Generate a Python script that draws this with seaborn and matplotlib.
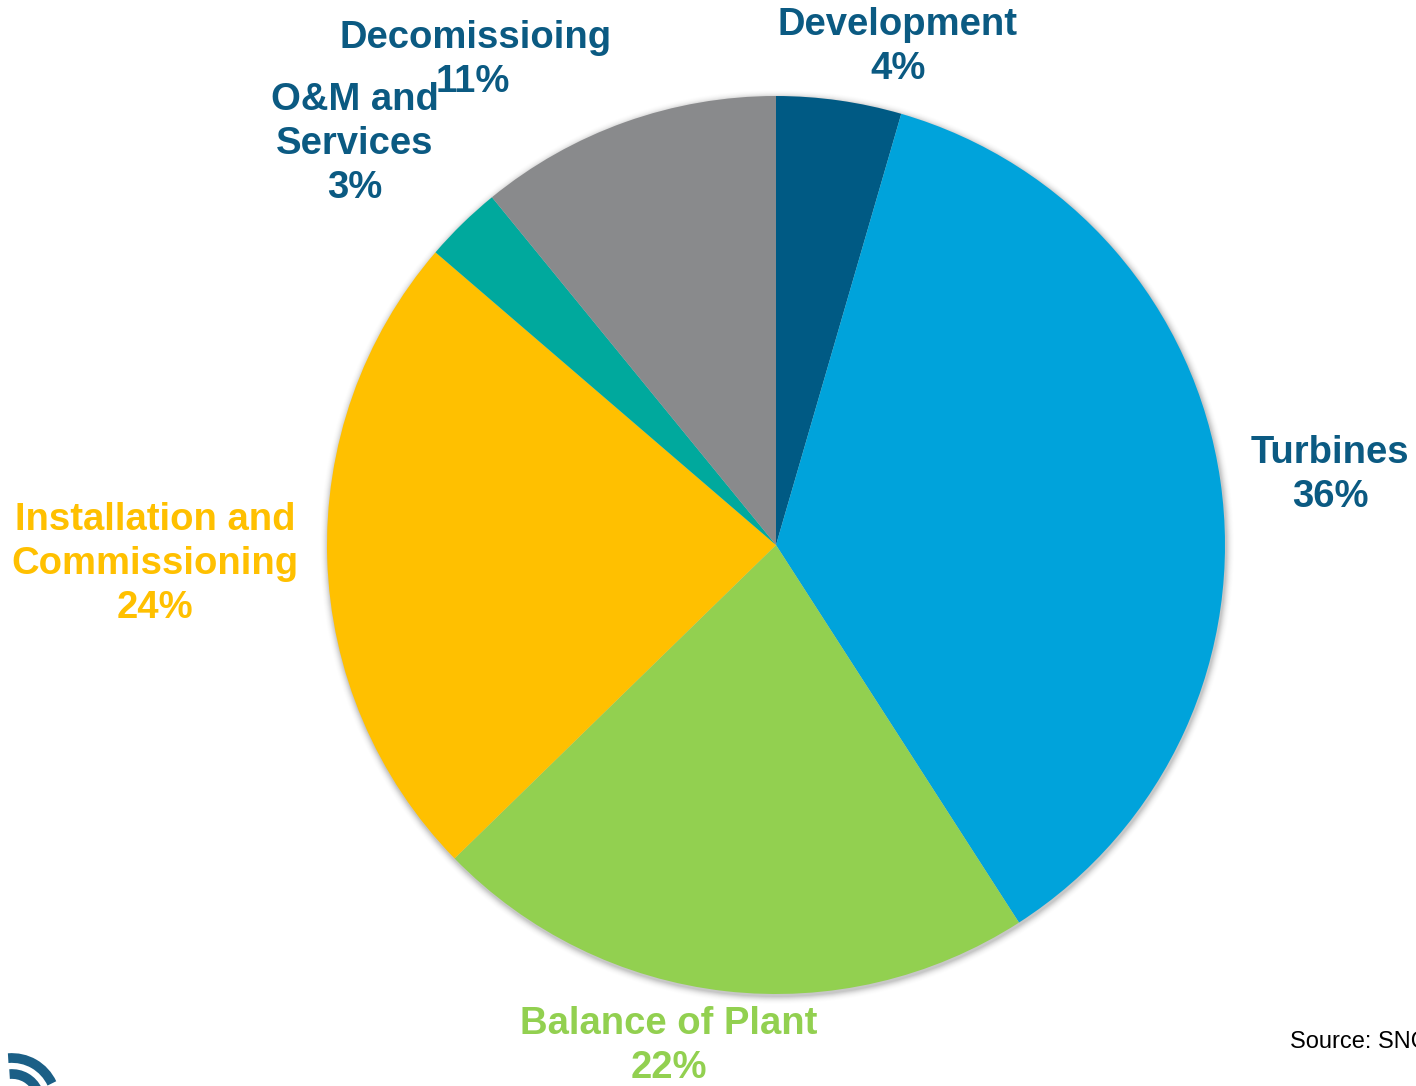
import matplotlib
matplotlib.use("Agg")
import matplotlib.pyplot as plt
import seaborn as sns
from matplotlib.patches import Arc

sns.set_theme(style="white")
plt.rcParams['font.family'] = ['Liberation Sans', 'DejaVu Sans']

# ---- data ----
categories = ["Development", "Turbines", "Balance of Plant",
              "Installation and\nCommissioning", "O&M and\nServices", "Decomissioing"]
shares = [4.5, 36.4, 21.8, 23.6, 2.8, 10.9]
pct_labels = ["4%", "36%", "22%", "24%", "3%", "11%"]
slice_colors = ["#005A84", "#00A3DB", "#92D050", "#FFC000", "#00A99D", "#898A8C"]
label_colors = ["#0B5A82", "#0B5A82", "#92D050", "#FFC000", "#0B5A82", "#0B5A82"]
source_text = "Source: SNC"

W, H = 1416, 1086
fig = plt.figure(figsize=(W / 100, H / 100), dpi=100)
ax = fig.add_axes([0, 0, 1, 1])

cx, cy, r = 776, H - 545, 449

# soft shadow
for k, a in zip(range(1, 9), [0.05, 0.045, 0.04, 0.03, 0.022, 0.015, 0.01, 0.006]):
    circ = plt.Circle((cx + 1, cy - 2), r + k, color="black", alpha=a, lw=0, zorder=0)
    ax.add_patch(circ)

ax.pie(shares, colors=slice_colors, startangle=90, counterclock=False,
       center=(cx, cy), radius=r, frame=True,
       wedgeprops=dict(linewidth=0, edgecolor="none"))
ax.set_xlim(0, W)
ax.set_ylim(0, H)
ax.set_aspect("equal")
ax.axis("off")

FS = 27.5
label_pos = [(898, 47), (1330, 475), (669, 1046), (155, 564), (355, 144), (475, 60)]
for cat, pct, col, (x, y) in zip(categories, pct_labels, label_colors, label_pos):
    if cat == "Decomissioing":
        ax.text(476, H - 38, cat, ha="center", va="center", fontsize=FS,
                fontweight="bold", color=col)
        ax.text(473, H - 82, pct, ha="center", va="center", fontsize=FS,
                fontweight="bold", color=col)
    else:
        ax.text(x, H - y, cat + "\n" + pct, ha="center", va="center", fontsize=FS,
                fontweight="bold", color=col, linespacing=1.28)

ax.text(1290, H - 1042, source_text, ha="left", va="center", fontsize=17, color="black")

# partial logo at bottom-left
for rad in [28, 44]:
    ax.add_patch(Arc((12, H - 1102), rad * 2, rad * 2, theta1=25, theta2=95,
                     lw=7, color="#1B5F86"))

fig.savefig("out.png", dpi=100)
